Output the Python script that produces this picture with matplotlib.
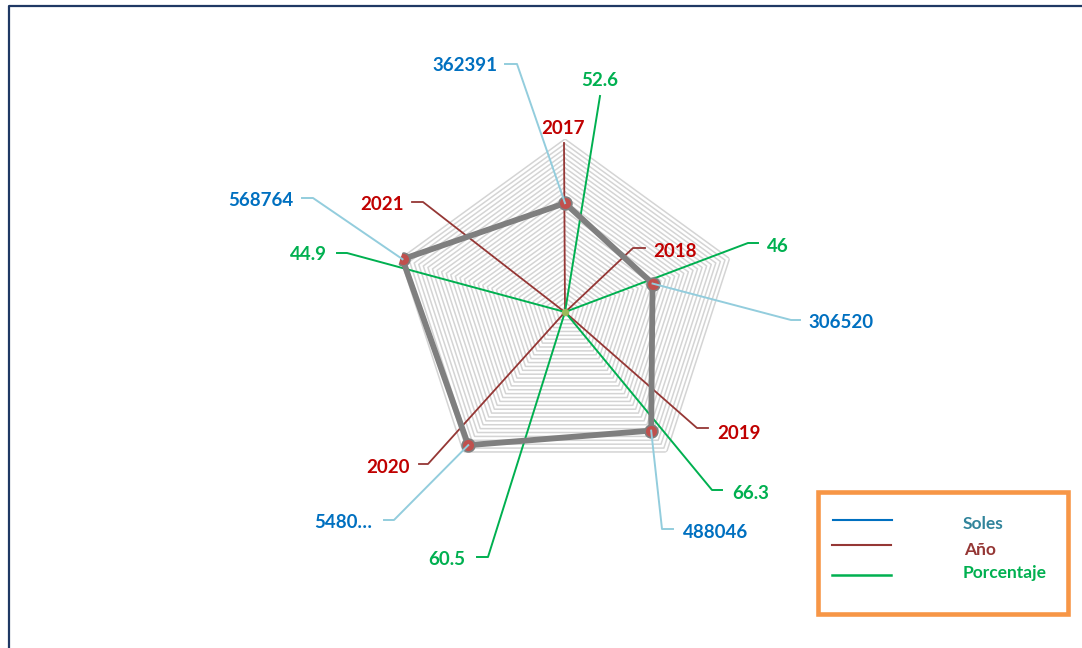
import numpy as np
import matplotlib
matplotlib.use('Agg')
import matplotlib.pyplot as plt
from matplotlib.patches import Rectangle

plt.rcParams['font.family'] = ['Lato', 'DejaVu Sans']

# data
years = [2017, 2018, 2019, 2020, 2021]
soles = [362391, 306520, 488046, 548050, 568764]
soles_labels = ['362391', '306520', '488046', '5480…', '568764']
porcentaje = [52.6, 46, 66.3, 60.5, 44.9]
pct_labels = ['52.6', '46', '66.3', '60.5', '44.9']

# radar scale
r_max = 576000
r_step = 16000

# colours
c_grid = '#D4D4D4'
c_line = '#7F7F7F'
c_marker = '#C0504D'
c_blue = '#0070C0'
c_blue_lead = '#93CDDD'
c_red = '#C00000'
c_red_lead = '#953735'
c_green = '#00B050'

W, H = 1082, 648
fig = plt.figure(figsize=(W / 100, H / 100), dpi=100)

# pixel overlay used for leader lines / labels
ov = fig.add_axes([0, 0, 1, 1])
ov.set_xlim(0, W)
ov.set_ylim(H, 0)
ov.axis('off')

cx, cy, rad = 565, 312, 173
ax = fig.add_axes([(cx - rad) / W, (H - cy - rad) / H, 2 * rad / W, 2 * rad / H],
                  projection='polar', zorder=2)
ax.set_theta_zero_location('N')
ax.set_theta_direction(-1)
ax.set_ylim(0, r_max)
ax.grid(False)
ax.set_xticks([])
ax.set_yticks([])
ax.spines['polar'].set_visible(False)
ax.patch.set_visible(False)

theta = np.linspace(0, 2 * np.pi, len(years), endpoint=False)
closed = np.append(theta, theta[0])

for r in np.arange(r_step, r_max + 1, r_step):
    ax.plot(closed, [r] * len(closed), color=c_grid, lw=1.1, zorder=1)

ax.plot(closed, soles + soles[:1], color=c_line, lw=4.2, zorder=3, solid_joinstyle='miter')
ax.scatter(theta, soles, s=85, color=c_marker, edgecolors=c_line, linewidths=1.2, zorder=4)
ax.plot(closed, years + years[:1], color=c_red_lead, lw=1, zorder=2)
ax.scatter(theta, porcentaje, s=14, color='#9BBB59', zorder=4)


def to_px(th, r):
    x, y = ax.transData.transform((th, r))
    return x, H - y


def leader(start, elbow, end, color, lw, z):
    xs = [start[0], elbow[0], end[0]]
    ys = [start[1], elbow[1], end[1]]
    ax.plot(xs, ys, color=color, lw=lw, transform=ov.transData, clip_on=False, zorder=z)


def label(txt, pos, ha, color):
    ax.text(pos[0], pos[1] + 2.5, txt, ha=ha, va='center', color=color, fontsize=13.5,
            fontweight='bold', transform=ov.transData, clip_on=False, zorder=7)


# leader layout (pixels)
soles_elbow = [(517, 64), (791, 320), (662, 529), (394, 520), (313, 198)]
soles_end = [(505, 64), (800, 320), (673, 529), (384, 520), (302, 198)]
soles_txt = [(497, 63, 'right'), (808, 320, 'left'), (683, 530, 'left'),
             (372, 520, 'right'), (293, 198, 'right')]

year_elbow = [(564, 143), (633, 248), (697, 428), (428, 464), (423, 202)]
year_end = [(564, 143), (645, 248), (708, 428), (419, 464), (412, 202)]
year_txt = [(563, 126, 'center'), (653, 249, 'left'), (717, 431, 'left'),
            (410, 465, 'right'), (404, 202, 'right')]

pct_elbow = [(600, 96), (748, 243), (712, 490), (488, 557), (347, 253)]
pct_end = [(600, 96), (758, 243), (722, 490), (477, 557), (337, 253)]
pct_txt = [(600, 78, 'center'), (767, 244, 'left'), (732, 491, 'left'),
           (465, 557, 'right'), (327, 252, 'right')]

for i in range(len(years)):
    p = to_px(theta[i], years[i])
    leader(p, year_elbow[i], year_end[i], c_red_lead, 1.3, 2)
    x, y, ha = year_txt[i]
    label(str(years[i]), (x, y), ha, c_red)

    p = to_px(theta[i], porcentaje[i])
    leader(p, pct_elbow[i], pct_end[i], c_green, 1.4, 2)
    x, y, ha = pct_txt[i]
    label(pct_labels[i], (x, y), ha, c_green)

    p = to_px(theta[i], soles[i])
    leader(p, soles_elbow[i], soles_end[i], c_blue_lead, 1.4, 5)
    x, y, ha = soles_txt[i]
    label(soles_labels[i], (x, y), ha, c_blue)

# legend box
ov.add_patch(Rectangle((818, 492), 250, 122, fill=False, edgecolor='#F79646', lw=3.3))
ov.plot([833, 892], [520, 520], color=c_blue, lw=1.5)
ov.plot([832, 891], [545, 545], color=c_red_lead, lw=1.5)
ov.plot([832, 891], [575, 575], color=c_green, lw=1.8)
ov.text(963, 524, 'Soles', color='#31849B', fontsize=12.5, fontweight='bold', va='center')
ov.text(964, 550, 'Año', color=c_red_lead, fontsize=12.5, fontweight='bold', va='center')
ov.text(963, 573, 'Porcentaje', color=c_green, fontsize=12.5, fontweight='bold', va='center')

# outer frame (left and top edges visible)
ov.plot([9, 9, W], [H, 6, 6], color='#1F3864', lw=1.6, clip_on=False)

fig.savefig('out.png', dpi=100, facecolor='white')
